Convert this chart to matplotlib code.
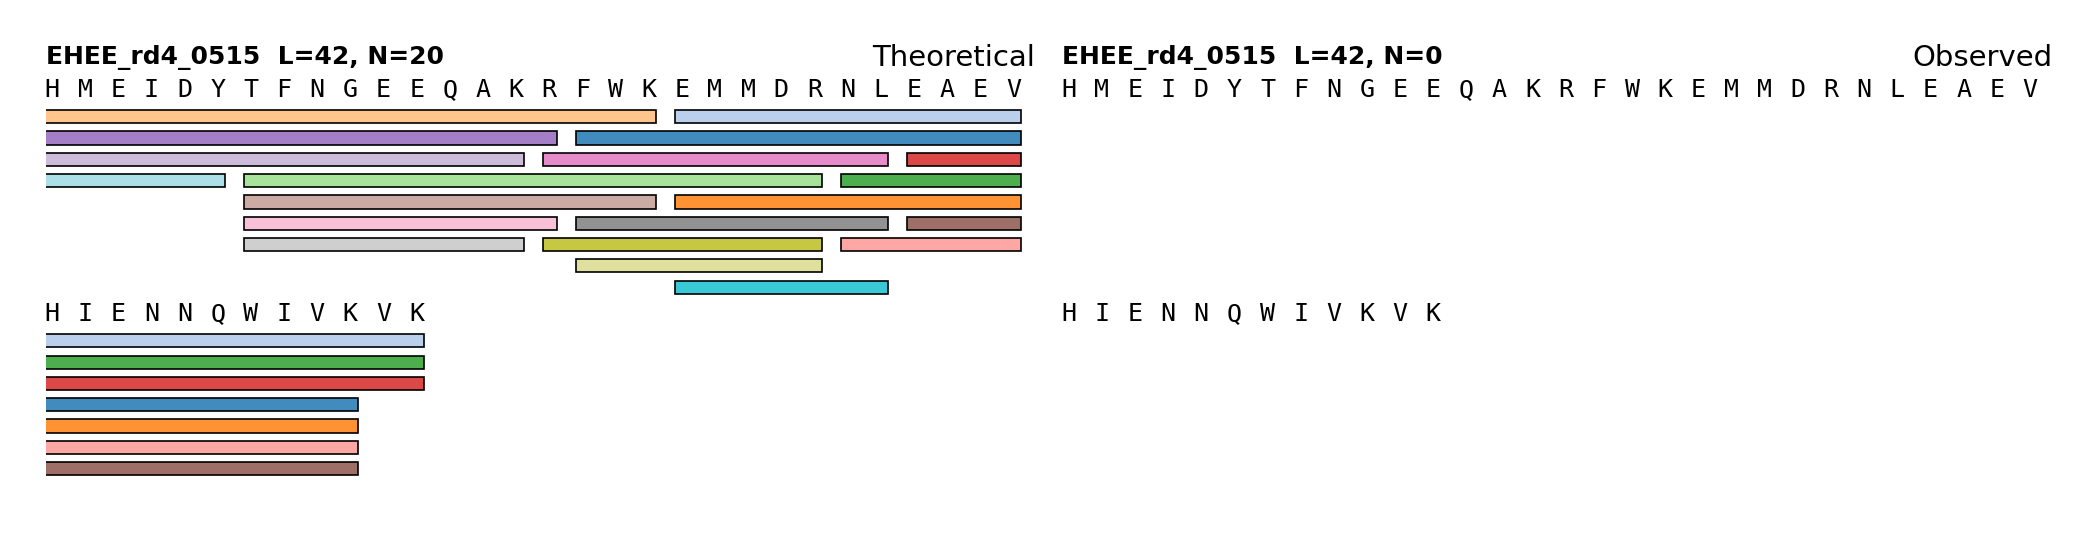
import numpy as np
import matplotlib.pyplot as plt
from matplotlib.patches import Rectangle
from matplotlib.colors import to_rgba

name = "EHEE_rd4_0515"
sequence = "HMEIDYTFNGEEQAKRFWKEMMDRNLEAEVHIENNQWIVKVK"
panels = ["Theoretical", "Observed"]

# peptides (1-based, inclusive)
theo_start = [17, 20, 20, 1, 25, 7, 27, 25, 1, 1, 27, 7, 16, 7, 17, 7, 16, 17, 20, 1]
theo_end = [40, 42, 40, 19, 42, 24, 42, 40, 16, 15, 40, 19, 26, 16, 26, 15, 24, 24, 26, 6]
obs_start = []
obs_end = []

line_len = 30


def pack(starts, ends, lo, hi):
    # clip peptides to one line of the sequence, then first-fit into rows
    order = sorted(range(len(starts)), key=lambda i: (starts[i], -ends[i]))
    items = []
    for i in order:
        s, e = max(starts[i] - 1, lo), min(ends[i] - 1, hi)
        if s <= e:
            items.append((s, e, i))
    items.sort(key=lambda t: (t[0], -t[1]))
    row_end = []
    placed = []
    for s, e, i in items:
        for r, last in enumerate(row_end):
            if last < s:
                row_end[r] = e
                break
        else:
            r = len(row_end)
            row_end.append(e)
        placed.append((s - lo, e - lo, i, r))
    return placed, len(row_end)


data = [(theo_start, theo_end), (obs_start, obs_end)]
n_lines = int(np.ceil(len(sequence) / line_len))

# y of each sequence line, shared by both panels
line_y = []
y = 0.0
for k in range(n_lines):
    line_y.append(y)
    lo, hi = k * line_len, min((k + 1) * line_len, len(sequence)) - 1
    nrows = max(pack(s, e, lo, hi)[1] for s, e in data)
    y += nrows + 1.52

colors = plt.get_cmap("tab20").colors

fig = plt.figure(figsize=(14, 3.6), dpi=150)
W, H = 2100, 540
row_px = 21.3
top_px = 88
lefts = [45.5, 1062]
ax_w = 990

for p, (label, (starts, ends)) in enumerate(zip(panels, data)):
    ax = fig.add_axes([lefts[p] / W, 0, ax_w / W, 1])
    ax.set_xlim(-0.196, -0.196 + ax_w / 33.15)
    ax.set_ylim((H - top_px) / row_px, -top_px / row_px)
    ax.axis("off")

    ax.text(0, -1.13, f"{name}  L={len(sequence)}, N={len(starts)}",
            transform=ax.get_yaxis_transform(), fontsize=12, fontweight="bold",
            ha="left", va="baseline")
    ax.text(1, -1.05, label, transform=ax.get_yaxis_transform(), fontsize=14,
            ha="right", va="baseline")

    for k in range(n_lines):
        lo, hi = k * line_len, min((k + 1) * line_len, len(sequence)) - 1
        y0 = line_y[k]
        for j, aa in enumerate(sequence[lo:hi + 1]):
            ax.text(j, y0 + 0.42, aa, fontsize=12, family="DejaVu Sans Mono",
                    ha="center", va="baseline")
        placed, _ = pack(starts, ends, lo, hi)
        for s, e, i, r in placed:
            yc = y0 + 1.35 + r
            ax.add_patch(Rectangle((s - 0.2, yc - 0.31), e - s + 0.43, 0.62,
                                   facecolor=to_rgba(colors[i % 20], 0.85),
                                   edgecolor="black", linewidth=0.8))

fig.savefig("out.png", dpi=150)
